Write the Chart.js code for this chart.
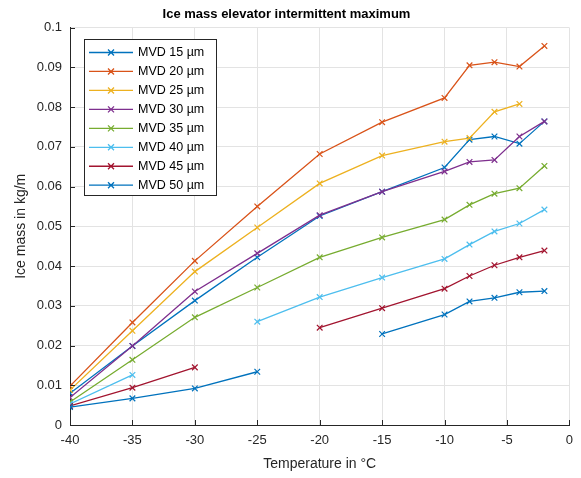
<!DOCTYPE html>
<html>
<head>
<meta charset="utf-8">
<script src="https://cdn.jsdelivr.net/npm/chart.js@4"></script>
<style>
  html, body { margin: 0; padding: 0; background: #fff; }
  #wrap { width: 581px; height: 478px; }
</style>
</head>
<body>
<div id="wrap"><canvas id="iceChart" width="581" height="478"></canvas></div>
<script>
// Ice mass elevator, intermittent maximum

const temps = [-40, -35, -30, -25, -20, -15, -10, -8, -6, -4, -2];

const mvdLabels = ['MVD 15 µm', 'MVD 20 µm', 'MVD 25 µm', 'MVD 30 µm',
                   'MVD 35 µm', 'MVD 40 µm', 'MVD 45 µm', 'MVD 50 µm'];

const mvd15 = [0.0080, 0.0199, 0.0313, 0.0422, 0.0526, 0.0587, 0.0648, 0.0718, 0.0726, 0.0708, 0.0764];
const mvd20 = [0.0098, 0.0258, 0.0413, 0.0550, 0.0682, 0.0762, 0.0823, 0.0905, 0.0913, 0.0902, 0.0954];
const mvd25 = [0.0088, 0.0237, 0.0386, 0.0497, 0.0608, 0.0678, 0.0713, 0.0722, 0.0788, 0.0808, null];
const mvd30 = [0.0069, 0.0199, 0.0336, 0.0432, 0.0528, 0.0587, 0.0638, 0.0662, 0.0667, 0.0726, 0.0764];
const mvd35 = [0.0058, 0.0164, 0.0271, 0.0346, 0.0422, 0.0472, 0.0517, 0.0554, 0.0582, 0.0596, 0.0652];
const mvd40 = [0.0053, 0.0126, null, 0.0260, 0.0322, 0.0371, 0.0418, 0.0454, 0.0487, 0.0507, 0.0542];
const mvd45 = [0.0048, 0.0094, 0.0145, null, 0.0245, 0.0294, 0.0343, 0.0375, 0.0402, 0.0422, 0.0439];
const mvd50 = [0.0045, 0.0067, 0.0092, 0.0134, null, 0.0229, 0.0278, 0.0311, 0.0320, 0.0334, 0.0337];

const seriesValues = [mvd15, mvd20, mvd25, mvd30, mvd35, mvd40, mvd45, mvd50];

// MATLAB default color order (wraps back to blue for the 8th line)
const lineColors = ['#0072BD', '#D95319', '#EDB120', '#7E2F8E',
                    '#77AC30', '#4DBEEE', '#A2142F', '#0072BD'];

const textColor = '#262626';
const gridColor = '#e3e3e3';
const fontFamily = '"Liberation Sans", Arial, Helvetica, sans-serif';

const datasets = seriesValues.map((vals, i) => ({
    label: mvdLabels[i],
    data: temps.map((t, j) => ({ x: t, y: vals[j] })),
    borderColor: lineColors[i],
    backgroundColor: lineColors[i],
    borderWidth: 1.3,
    pointStyle: 'crossRot',
    pointRadius: 4,
    pointBorderWidth: 1.2,
    pointBorderColor: lineColors[i],
    spanGaps: false,
    tension: 0,
    order: 8 - i
}));

// inward tick marks like MATLAB
const innerTicks = {
    id: 'innerTicks',
    afterDraw(chart) {
        const ctx = chart.ctx;
        const xs = chart.scales.x, ys = chart.scales.y;
        const area = chart.chartArea;
        ctx.save();
        ctx.strokeStyle = textColor;
        ctx.lineWidth = 1;
        ctx.beginPath();
        xs.ticks.forEach(t => {
            const px = Math.round(xs.getPixelForValue(t.value)) + 0.5;
            ctx.moveTo(px, area.bottom);
            ctx.lineTo(px, area.bottom - 5);
        });
        ys.ticks.forEach(t => {
            const py = Math.round(ys.getPixelForValue(t.value)) + 0.5;
            ctx.moveTo(area.left, py);
            ctx.lineTo(area.left + 5, py);
        });
        ctx.stroke();
        ctx.restore();
    }
};

// legend box drawn inside the plot, upper left
const insideLegend = {
    id: 'insideLegend',
    afterDraw(chart) {
        const ctx = chart.ctx;
        const left = 84, top = 39, w = 132, h = 156;
        const rowH = 18.96;
        ctx.save();
        ctx.fillStyle = '#fff';
        ctx.fillRect(left, top, w, h);
        ctx.strokeStyle = textColor;
        ctx.lineWidth = 1;
        ctx.strokeRect(left + 0.5, top + 0.5, w, h);
        ctx.font = '12.5px ' + fontFamily;
        ctx.textBaseline = 'middle';
        chart.data.datasets.forEach((ds, i) => {
            const cy = top + 13.5 + i * rowH;
            ctx.strokeStyle = ds.borderColor;
            ctx.lineWidth = 1.3;
            ctx.beginPath();
            ctx.moveTo(89, cy);
            ctx.lineTo(133, cy);
            // x marker
            ctx.moveTo(111 - 3, cy - 3);
            ctx.lineTo(111 + 3, cy + 3);
            ctx.moveTo(111 - 3, cy + 3);
            ctx.lineTo(111 + 3, cy - 3);
            ctx.stroke();
            ctx.fillStyle = '#000';
            ctx.fillText(ds.label, 138, cy + 0.5);
        });
        ctx.restore();
    }
};

new Chart(document.getElementById('iceChart').getContext('2d'), {
    type: 'line',
    data: { datasets: datasets },
    plugins: [innerTicks, insideLegend],
    options: {
        responsive: false,
        animation: false,
        layout: { padding: { top: 0, right: 8, left: 0, bottom: 0 } },
        plugins: {
            legend: { display: false },
            tooltip: { enabled: false },
            title: {
                display: true,
                text: 'Ice mass elevator intermittent maximum',
                color: '#000',
                font: { family: fontFamily, size: 13, weight: 'bold', lineHeight: 1.2 },
                padding: { top: 7, bottom: 5 }
            }
        },
        scales: {
            x: {
                type: 'linear',
                min: -40,
                max: 0,
                afterFit(scale) { scale.height = 53; },
                ticks: {
                    stepSize: 5,
                    color: textColor,
                    padding: 8,
                    maxRotation: 0,
                    font: { family: fontFamily, size: 13 }
                },
                grid: { color: gridColor, drawTicks: false },
                border: { color: textColor, width: 1 },
                title: {
                    display: true,
                    text: 'Temperature in °C',
                    color: textColor,
                    font: { family: fontFamily, size: 14, lineHeight: 1.2 },
                    padding: { top: 0, bottom: 5 }
                }
            },
            y: {
                type: 'linear',
                min: 0,
                max: 0.1,
                afterFit(scale) { scale.width = 70; },
                ticks: {
                    stepSize: 0.01,
                    color: textColor,
                    padding: 8,
                    font: { family: fontFamily, size: 13 },
                    callback: v => String(+v.toFixed(2))
                },
                grid: { color: gridColor, drawTicks: false },
                border: { color: textColor, width: 1 },
                title: {
                    display: true,
                    text: 'Ice mass in kg/m',
                    color: textColor,
                    font: { family: fontFamily, size: 14, lineHeight: 1.2 },
                    padding: { top: 13, bottom: 0 }
                }
            }
        }
    }
});
</script>
</body>
</html>
